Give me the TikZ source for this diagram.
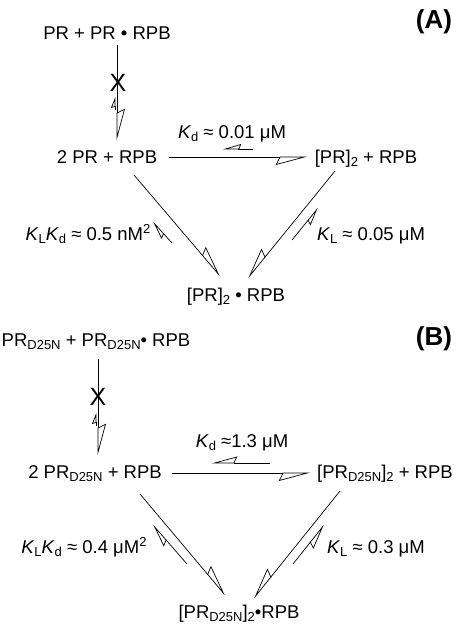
\documentclass[tikz,border=0pt]{standalone}
\usepackage{fontspec}
\setmainfont{Liberation Sans}
\usetikzlibrary{arrows.meta}
\newcommand{\lo}[1]{\raisebox{-3.8pt}{\fontsize{13}{13}\selectfont #1}}
\newcommand{\hi}[1]{\raisebox{6.5pt}{\fontsize{13}{13}\selectfont #1}}
\newcommand{\Kc}[1]{\textit{K}\lo{#1}}
\begin{document}
\begin{tikzpicture}[x=1pt,y=-1pt,
  lbl/.style={anchor=base, inner sep=0pt, font=\fontsize{18.5}{20}\selectfont},
  tag/.style={anchor=base, inner sep=0pt, font=\fontsize{26}{28}\selectfont\bfseries},
  xmark/.style={anchor=center, inner sep=0pt, font=\fontsize{25}{25}\selectfont},
  ln/.style={line width=0.7pt},
  fwd/.style={ln, -{Stealth[open, harpoon, length=30pt, width=16pt, inset=4pt]}},
  fwds/.style={ln, -{Stealth[open, harpoon, swap, length=30pt, width=16pt, inset=4pt]}},
  revt/.style={ln, -{Stealth[open, harpoon, length=10pt, width=8pt, inset=1pt]}},
  reva/.style={ln, -{Stealth[open, harpoon, length=17pt, width=10pt, inset=2pt]}},
  revas/.style={ln, -{Stealth[open, harpoon, swap, length=17pt, width=10pt, inset=2pt]}},
  revb/.style={ln, -{Stealth[open, harpoon, length=22pt, width=12pt, inset=3pt]}},
  revbs/.style={ln, -{Stealth[open, harpoon, swap, length=24pt, width=13pt, inset=3pt]}}
]
\useasboundingbox (0,0) rectangle (456,624);

% ---------- Panel A ----------
\node[tag] (ta) at (434,28) {(A)};
\node[lbl] (a1) at (107,39) {PR + PR • RPB};
\node[lbl] (a2) at (107,163) {2 PR + RPB};
\node[lbl] (a3) at (366,163) {[PR]\lo{2} + RPB};
\node[lbl] (a4) at (236,301) {[PR]\lo{2} • RPB};
\node[lbl] (ka) at (232,138) {\Kc{d} ≈ 0.01 μM};
\node[lbl] (kla) at (88,240) {\Kc{L}\Kc{d} ≈ 0.5 nM\hi{2}};
\node[lbl] (kra) at (371,240) {\Kc{L} ≈ 0.05 μM};

\coordinate (a1s) at (117,45);  \coordinate (a2n) at (117,140);
\draw[fwd] (a1s) -- (a2n);
\coordinate (av1) at (115,110); \coordinate (av2) at (115,97);
\draw[revt] (av1) -- (av2);
\node[xmark] (xa) at (118,83) {X};

\coordinate (a2e) at (169,157); \coordinate (a3w) at (307,157);
\draw[fwds] (a2e) -- (a3w);
\coordinate (ah1) at (253,149); \coordinate (ah2) at (223,149);
\draw[revas] (ah1) -- (ah2);

\coordinate (a2se) at (134,175); \coordinate (a4nw) at (220,276);
\draw[fwd] (a2se) -- (a4nw);
\coordinate (al1) at (172,243); \coordinate (al2) at (153,222);
\draw[reva] (al1) -- (al2);

\coordinate (a3sw) at (335,171); \coordinate (a4ne) at (248,278);
\draw[fwds] (a3sw) -- (a4ne);
\coordinate (ar1) at (292,240); \coordinate (ar2) at (318,208);
\draw[revas] (ar1) -- (ar2);

% ---------- Panel B ----------
\node[tag] (tb) at (434,345) {(B)};
\node[lbl] (b1) at (96,346) {PR\lo{D25N} + PR\lo{D25N}• RPB};
\node[lbl] (b2) at (95,478) {2 PR\lo{D25N} + RPB};
\node[lbl] (b3) at (385,478) {[PR\lo{D25N}]\lo{2} + RPB};
\node[lbl] (b4) at (239,618) {[PR\lo{D25N}]\lo{2}•RPB};
\node[lbl] (kb) at (242,447) {\Kc{d} ≈1.3 μM};
\node[lbl] (klb) at (84,553) {\Kc{L}\Kc{d} ≈ 0.4 μM\hi{2}};
\node[lbl] (krb) at (376,553) {\Kc{L} ≈ 0.3 μM};

\coordinate (b1s) at (98,359);  \coordinate (b2n) at (98,455);
\draw[fwd] (b1s) -- (b2n);
\coordinate (bv1) at (96,426); \coordinate (bv2) at (96,413);
\draw[revt] (bv1) -- (bv2);
\node[xmark] (xb) at (98,397) {X};

\coordinate (b2e) at (172,473); \coordinate (b3w) at (310,473);
\draw[fwds] (b2e) -- (b3w);
\coordinate (bh1) at (270,463); \coordinate (bh2) at (212,463);
\draw[revbs] (bh1) -- (bh2);

\coordinate (b2se) at (140,494); \coordinate (b4nw) at (225,595);
\draw[fwd] (b2se) -- (b4nw);
\coordinate (bl1) at (187,564); \coordinate (bl2) at (153,525);
\draw[revb] (bl1) -- (bl2);

\coordinate (b3sw) at (340,491); \coordinate (b4ne) at (254,598);
\draw[fwds] (b3sw) -- (b4ne);
\coordinate (br1) at (293,564); \coordinate (br2) at (324,525);
\draw[revbs] (br1) -- (br2);
\end{tikzpicture}
\end{document}
